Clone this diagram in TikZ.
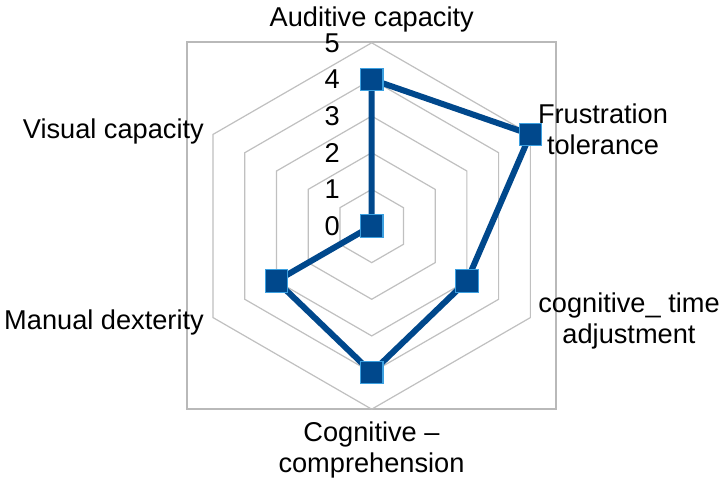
\documentclass[tikz,border=0pt]{standalone}
\usepackage{fontspec}
\setmainfont{Liberation Sans}
\definecolor{gridgray}{RGB}{192,192,192}
\definecolor{framegray}{RGB}{185,185,185}
\definecolor{datablue}{RGB}{0,72,140}
\definecolor{edgeblue}{RGB}{60,160,224}
\begin{document}
\begin{tikzpicture}[x=1pt,y=1pt,
  gridline/.style={draw=gridgray, line width=1.2pt},
  framebox/.style={draw=framegray, line width=1.8pt},
  dataline/.style={draw=datablue, line width=6pt, line join=miter},
  marker/.style={rectangle, fill=datablue, draw=edgeblue, line width=1.2pt, minimum size=22.5pt, inner sep=0pt},
  lbl/.style={inner sep=0pt, font=\fontsize{27.2}{31}\selectfont, align=center},
  tick/.style={inner sep=0pt, font=\fontsize{27.2}{31}\selectfont, anchor=east}]
\useasboundingbox (0,0) rectangle (724,485);
\fill[white] (0,0) rectangle (724,485);
\draw[framebox] (187,76) rectangle (556,443);
\begin{scope}[shift={(371.7,259)}]
  \foreach \r in {1,...,5}{
    \draw[gridline] (90:\r*36.64) -- (30:\r*36.64) -- (-30:\r*36.64) -- (-90:\r*36.64) -- (-150:\r*36.64) -- (150:\r*36.64) -- cycle;
  }
  \foreach \v in {0,...,5}{
    \node[tick] (t\v) at (-31.7,\v*36.64) {\v};
  }
  \coordinate (pa) at (90:4*36.64);
  \coordinate (pb) at (30:5*36.64);
  \coordinate (pc) at (-30:3*36.64);
  \coordinate (pd) at (-90:4*36.64);
  \coordinate (pe) at (-150:3*36.64);
  \coordinate (pf) at (0,0);
  \draw[dataline] (pa) -- (pb) -- (pc) -- (pd) -- (pe) -- (pf) -- cycle;
  \node[marker] (ma) at (pa) {};
  \node[marker] (mb) at (pb) {};
  \node[marker] (mc) at (pc) {};
  \node[marker] (md) at (pd) {};
  \node[marker] (me) at (pe) {};
  \node[marker] (mf) at (pf) {};
\end{scope}
\node[lbl, anchor=base] (la) at (371.7,458.3) {Auditive capacity};
\node[lbl, anchor=north] (lb) at (603,381) {Frustration\\tolerance};
\node[lbl, anchor=north] (lc) at (629,192) {cognitive\_ time\\adjustment};
\node[lbl, anchor=north] (ld) at (371.5,63) {Cognitive –\\comprehension};
\node[lbl, anchor=base east] (le) at (204,155) {Manual dexterity};
\node[lbl, anchor=base east] (lf) at (204,346) {Visual capacity};
\end{tikzpicture}
\end{document}
